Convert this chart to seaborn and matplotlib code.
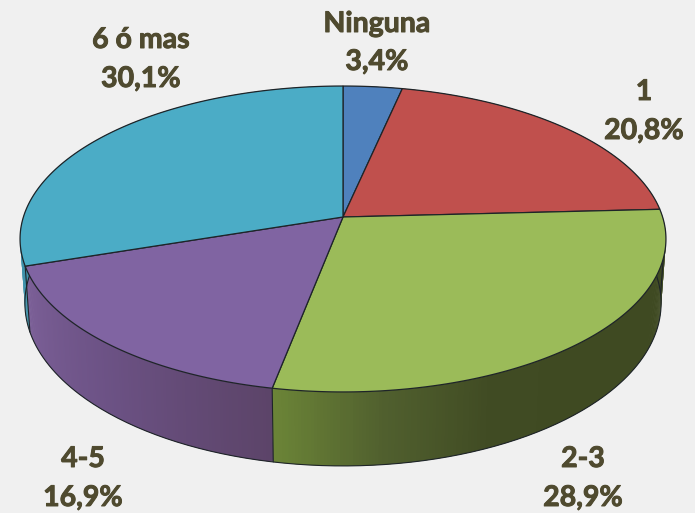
import numpy as np
import seaborn as sns
import matplotlib.pyplot as plt
import matplotlib.patheffects as pe

# datos
categories = ['Ninguna', '1', '2-3', '4-5', '6 ó mas']
values = [3.4, 20.8, 28.9, 16.9, 30.1]
top_colors = ['#4F81BD', '#C0504D', '#9BBB59', '#8064A2', '#4BACC6']
# color del lateral, de izquierda a derecha en pantalla
side_colors = [
    ['#2F4D71', '#2F4D71'],
    ['#3F4A22', '#3F4A22'],
    ['#6B8437', '#505F2E', '#404B23', '#3F4A22', '#3F4A22', '#3F4A22', '#3F4A22'],
    ['#7C6098', '#6C5285', '#5C4469'],
    ['#3F93AB', '#3F93AB'],
]
label_pos = [(377, 24, 62), (644, 92, 131), (583, 459, 498), (83, 459, 498), (141, 40, 79)]

sns.set_theme(style='white')
plt.rcParams['font.family'] = ['Lato', 'DejaVu Sans']

BG = '#F0F0F0'
TXT = '#4F4A2F'
EDGE = '#1E2428'

# proyeccion del circulo en perspectiva
CX, CY = 343, 217
RX, RY, K = 319.6, 149.8, 0.1437
SX, SY, DEPTH = 0.985, 1.064, 62.8


def top_xy(ang):
    u, v = np.sin(ang), np.cos(ang)
    return CX + RX * u / (1 + K * v), CY - RY * v / (1 + K * v)


def bottom_xy(ang):
    x, y = top_xy(ang)
    return CX + (x - CX) * SX, CY + (y - CY) * SY + DEPTH


fig = plt.figure(figsize=(6.95, 5.13), dpi=100, facecolor=BG)
ax = fig.add_axes([0, 0, 1, 1])
ax.set_xlim(0, 695)
ax.set_ylim(513, 0)
ax.axis('off')

edges = np.radians(np.cumsum([0] + values) / sum(values) * 360)

# lateral primero, la cara de arriba lo tapa despues
for i in range(len(values)):
    a0, a1 = edges[i], edges[i + 1]
    n = max(int(np.degrees(a1 - a0) * 2), 4)
    ang = np.linspace(a0, a1, n + 1)
    # el angulo crece hacia la izquierda en el frente
    shades = sns.blend_palette(side_colors[i], n)[::-1]
    for j in range(n):
        # cada tira pisa la siguiente para que no se vean costuras
        seg = ang[j:j + 3]
        xt, yt = top_xy(seg)
        xb, yb = bottom_xy(seg)
        ax.fill(np.r_[xt, xb[::-1]], np.r_[yt, yb[::-1]], color=shades[j], lw=0, zorder=1)

# contorno del lateral
ang = np.linspace(np.radians(85), np.radians(285), 300)
ax.plot(*bottom_xy(ang), color=EDGE, lw=0.8, zorder=2)
for a in [edges[3], edges[4], np.radians(95)]:
    xt, yt = top_xy(a)
    xb, yb = bottom_xy(a)
    ax.plot([xt, xb], [yt, yb], color=EDGE, lw=0.8, zorder=2)

# cara de arriba
for i in range(len(values)):
    ang = np.linspace(edges[i], edges[i + 1], 200)
    x, y = top_xy(ang)
    ax.fill(np.r_[CX, x], np.r_[CY, y], facecolor=top_colors[i], edgecolor=EDGE, lw=0.9, zorder=3)

# etiquetas
stroke = [pe.withStroke(linewidth=0.7, foreground=TXT)]
for name, val, (lx, ly1, ly2) in zip(categories, values, label_pos):
    ax.text(lx, ly1, name, color=TXT, fontsize=20.5, fontweight='bold', ha='center', va='center',
            path_effects=stroke)
    ax.text(lx, ly2, f'{val:.1f}%'.replace('.', ','), color=TXT, fontsize=20.5, fontweight='bold',
            ha='center', va='center', path_effects=stroke)

fig.savefig('out.png', dpi=100, facecolor=BG)
